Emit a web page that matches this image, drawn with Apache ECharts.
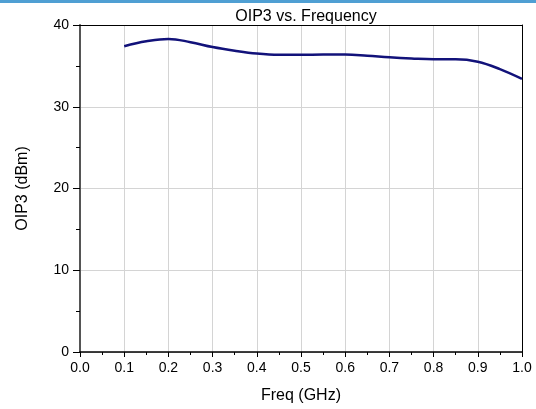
<!DOCTYPE html>
<html>
<head>
<meta charset="utf-8">
<script src="https://cdn.jsdelivr.net/npm/echarts@6/dist/echarts.min.js"></script>
<style>
  html, body { margin: 0; padding: 0; background: #fff; }
  #chart_oip3 { width: 536px; height: 409px; }
</style>
</head>
<body>
<div id="chart_oip3"></div>
<script>
  // frequency (GHz) and OIP3 (dBm)
  var freq = [0.1, 0.15, 0.2, 0.25, 0.3, 0.35, 0.4, 0.45, 0.5, 0.55, 0.6, 0.65, 0.7, 0.75, 0.8, 0.85, 0.9, 0.95, 1.0];
  var oip3 = [37.4, 38.0, 38.3, 37.9, 37.3, 36.85, 36.5, 36.35, 36.35, 36.4, 36.4, 36.25, 36.05, 35.9, 35.8, 35.8, 35.5, 34.6, 33.4];

  var titleText = 'OIP3 vs. Frequency';
  var xName = 'Freq (GHz)';
  var yName = 'OIP3 (dBm)';

  var font = 'Liberation Sans, Arial, sans-serif';

  var myChart = echarts.init(document.getElementById('chart_oip3'));
  myChart.setOption({
    animation: false,
    title: {
      text: titleText,
      left: 301,
      textAlign: 'center',
      top: 4,
      textStyle: { fontFamily: font, fontSize: 16, fontWeight: 'normal', color: '#000' }
    },
    graphic: [
      {
        type: 'rect',
        shape: { x: 0, y: 0, width: 536, height: 3 },
        style: { fill: '#4f9fd3' }
      }
    ],
    grid: { left: 80, right: 14, top: 25, bottom: 53 },
    xAxis: [
      {
        type: 'value',
        min: 0,
        max: 1,
        interval: 0.1,
        name: xName,
        nameLocation: 'middle',
        nameGap: 36,
        nameTextStyle: { fontFamily: font, fontSize: 16, color: '#000' },
        axisLine: { show: true, lineStyle: { color: '#000', width: 1.5 } },
        axisTick: { show: true, length: 5, lineStyle: { color: '#000' } },
        minorTick: { show: true, splitNumber: 2, length: 3, lineStyle: { color: '#000' } },
        axisLabel: {
          margin: 9,
          fontFamily: font, fontSize: 14, color: '#000',
          formatter: function (v) { return v.toFixed(1); }
        },
        splitLine: { show: true, lineStyle: { color: '#d4d4d4', width: 1 } }
      },
      {
        type: 'value',
        position: 'top',
        min: 0,
        max: 1,
        axisLine: { show: true, onZero: false, lineStyle: { color: '#000', width: 1 } },
        axisTick: { show: false },
        axisLabel: { show: false },
        splitLine: { show: false }
      }
    ],
    yAxis: [
      {
        type: 'value',
        min: 0,
        max: 40,
        interval: 10,
        name: yName,
        nameLocation: 'middle',
        nameGap: 49,
        nameTextStyle: { fontFamily: font, fontSize: 16, color: '#000' },
        axisLine: { show: true, lineStyle: { color: '#555', width: 2 } },
        axisTick: { show: true, length: 7, lineStyle: { color: '#000' } },
        minorTick: { show: true, splitNumber: 2, length: 4, lineStyle: { color: '#000' } },
        axisLabel: { margin: 11, fontFamily: font, fontSize: 14, color: '#000' },
        splitLine: { show: true, lineStyle: { color: '#d4d4d4', width: 1 } }
      },
      {
        type: 'value',
        position: 'right',
        min: 0,
        max: 40,
        axisLine: { show: true, onZero: false, lineStyle: { color: '#000', width: 1 } },
        axisTick: { show: false },
        axisLabel: { show: false },
        splitLine: { show: false }
      }
    ],
    series: [
      {
        name: 'OIP3',
        type: 'line',
        smooth: 0.4,
        symbol: 'none',
        lineStyle: { color: '#12127a', width: 2.5 },
        data: freq.map(function (f, i) { return [f, oip3[i]]; })
      }
    ]
  });
</script>
</body>
</html>
